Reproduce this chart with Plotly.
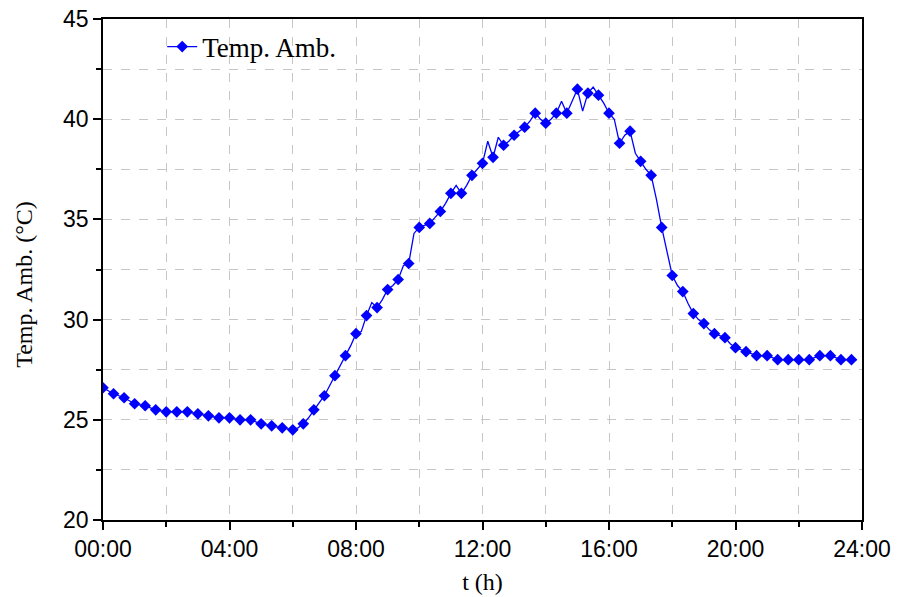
"""Ambient temperature over one day (10-min readings, marker every 20 min)."""

import plotly.graph_objects as go

# time of day in hours, every 10 minutes (00:00 .. 23:50)
hours = [i / 6 for i in range(144)]

# ambient temperature (°C)
temp_amb = [
    26.6, 26.45, 26.3, 26.2, 26.1, 25.95, 25.8, 25.75, 25.7, 25.6, 25.5, 25.45,   # 00:00-01:50
    25.4, 25.4, 25.4, 25.4, 25.4, 25.35, 25.3, 25.25, 25.2, 25.15, 25.1, 25.1,    # 02:00-03:50
    25.1, 25.05, 25.0, 25.0, 25.0, 24.9, 24.8, 24.75, 24.7, 24.65, 24.6, 24.55,   # 04:00-05:50
    24.5, 24.6, 24.8, 25.1, 25.5, 25.85, 26.2, 26.7, 27.2, 27.7, 28.2, 28.7,      # 06:00-07:50
    29.3, 29.4, 30.2, 30.85, 30.6, 31.0, 31.5, 31.7, 32.0, 32.7, 32.8, 34.3,      # 08:00-09:50
    34.6, 34.7, 34.8, 35.1, 35.4, 35.8, 36.3, 36.7, 36.3, 36.7, 37.2, 37.5,       # 10:00-11:50
    37.8, 38.9, 38.1, 39.1, 38.7, 38.9, 39.2, 39.4, 39.6, 39.9, 40.3, 40.0,       # 12:00-13:50
    39.8, 40.0, 40.3, 40.9, 40.3, 40.9, 41.5, 40.4, 41.3, 41.6, 41.2, 40.8,       # 14:00-15:50
    40.3, 40.0, 38.8, 39.2, 39.4, 38.3, 37.9, 37.5, 37.2, 36.0, 34.6, 33.4,       # 16:00-17:50
    32.2, 31.7, 31.4, 30.8, 30.3, 30.0, 29.8, 29.5, 29.3, 29.2, 29.1, 28.8,       # 18:00-19:50
    28.6, 28.5, 28.4, 28.3, 28.2, 28.2, 28.2, 28.1, 28.0, 28.0, 28.0, 28.0,       # 20:00-21:50
    28.0, 28.0, 28.0, 28.1, 28.2, 28.2, 28.2, 28.1, 28.0, 28.0, 28.0, 28.0,       # 22:00-23:50
]

tick_hours = [0, 4, 8, 12, 16, 20, 24]
tick_labels = ["00:00", "04:00", "08:00", "12:00", "16:00", "20:00", "24:00"]
temp_ticks = [20, 25, 30, 35, 40, 45]

BLUE = "#0000FF"
# markers drawn on every second reading (every 20 min)
marker_colors = [BLUE if i % 2 == 0 else "rgba(0,0,0,0)" for i in range(len(hours))]

fig = go.Figure()
fig.add_trace(
    go.Scatter(
        x=hours,
        y=temp_amb,
        name="Temp. Amb.",
        mode="lines+markers",
        line=dict(color=BLUE, width=1.3),
        marker=dict(symbol="diamond", size=9, color=marker_colors,
                    line=dict(width=0)),
    )
)

grid_color = "#c6c6c6"
axis_common = dict(
    showline=True,
    linecolor="black",
    linewidth=1.6,
    mirror=True,
    ticks="outside",
    ticklen=8,
    tickwidth=1.5,
    tickcolor="black",
    showgrid=True,
    gridcolor=grid_color,
    griddash="dash",
    gridwidth=1,
    zeroline=False,
    tickfont=dict(family="Liberation Sans, Arial", size=23, color="black"),
)
serif = "Liberation Serif, Times New Roman"

fig.update_xaxes(
    **axis_common,
    range=[0, 24],
    tickmode="array",
    tickvals=tick_hours,
    ticktext=tick_labels,
    minor=dict(dtick=2, tick0=0, ticks="outside", ticklen=5, tickwidth=1.5,
               tickcolor="black", showgrid=True, gridcolor=grid_color,
               griddash="dash", gridwidth=1),
    title=dict(text="t (h)", font=dict(family=serif, size=24, color="black"), standoff=12),
)
fig.update_yaxes(
    **axis_common,
    range=[20, 45],
    tickmode="array",
    tickvals=temp_ticks,
    minor=dict(dtick=2.5, tick0=20, ticks="outside", ticklen=5, tickwidth=1.5,
               tickcolor="black", showgrid=True, gridcolor=grid_color,
               griddash="dash", gridwidth=1),
)

# y title as a rotated annotation so it can sit a bit below the plot centre, as in the original
fig.add_annotation(
    text="Temp. Amb. (°C)",
    textangle=-90,
    xref="paper", yref="paper",
    x=-0.105, y=0.47,
    xanchor="center", yanchor="middle",
    showarrow=False,
    font=dict(family=serif, size=24, color="black"),
)

fig.update_layout(
    width=899,
    height=597,
    template="none",
    plot_bgcolor="white",
    paper_bgcolor="white",
    margin=dict(l=103, r=37, t=19, b=77),
    showlegend=True,
    legend=dict(
        x=0.078, y=0.944, xanchor="left", yanchor="middle",
        bgcolor="rgba(255,255,255,0)",
        font=dict(family=serif, size=27, color="black"),
    ),
)

# drop the default 8px page margin so the figure fills the window exactly
fig.write_html(
    "out.html",
    config={"displayModeBar": False},
    post_script="document.body.style.margin = '0';",
)
